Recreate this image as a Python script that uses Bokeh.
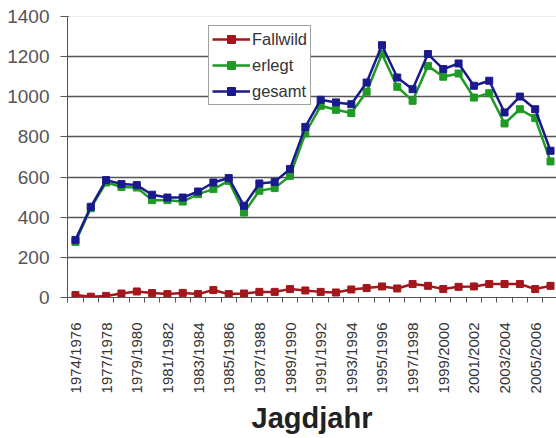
import math
from bokeh.plotting import figure
from bokeh.models import Range1d, FixedTicker, Span, Legend, LegendItem
from bokeh.embed import file_html
from bokeh.resources import INLINE

labels = ["1974/1976", "1977/1978", "1979/1980", "1981/1982", "1983/1984",
          "1985/1986", "1987/1988", "1989/1990", "1991/1992", "1993/1994",
          "1995/1996", "1997/1998", "1999/2000", "2001/2002", "2003/2004",
          "2005/2006"]

fallwild = [12, 4, 8, 20, 30, 22, 17, 23, 17, 37, 17, 20, 28, 28, 42, 35,
            28, 25, 40, 47, 55, 45, 67, 58, 42, 53, 55, 67, 67, 67, 42, 58]
erlegt = [277, 445, 573, 551, 548, 485, 485, 478, 515, 540, 581, 423, 532, 545, 606, 817,
          955, 935, 919, 1025, 1213, 1050, 980, 1154, 1100, 1116, 996, 1018, 867, 938, 894, 678]
gesamt = [287, 452, 585, 565, 560, 512, 498, 498, 528, 573, 595, 457, 568, 576, 640, 850,
          985, 972, 963, 1071, 1257, 1096, 1038, 1213, 1138, 1166, 1055, 1080, 922, 1001, 938, 731]

xs = list(range(len(gesamt)))

FONT = "Liberation Sans"

p = figure(width=556, height=438, output_backend="svg",
           toolbar_location=None, x_range=Range1d(-0.52, 31.39),
           y_range=Range1d(0, 1400), min_border_left=67, min_border_right=0,
           min_border_top=16, min_border_bottom=141,
           background_fill_color="white", border_fill_color="white")
p.outline_line_color = None

# y axis
p.yaxis.ticker = FixedTicker(ticks=list(range(0, 1401, 200)))
p.yaxis.major_tick_out = 7
p.yaxis.major_tick_in = 2
p.yaxis.minor_tick_line_color = None
p.yaxis.axis_line_color = "#555555"
p.yaxis.major_tick_line_color = "#555555"
p.yaxis.major_label_text_font = FONT
p.yaxis.major_label_text_font_size = "19px"
p.yaxis.major_label_text_color = "#555555"
p.yaxis.major_label_standoff = 11

# x axis
p.xaxis.ticker = FixedTicker(ticks=list(range(0, 31, 2)),
                             minor_ticks=[i - 0.5 for i in range(33)])
p.xaxis.major_label_overrides = {2 * i: lab for i, lab in enumerate(labels)}
p.xaxis.major_label_orientation = math.pi / 2
p.xaxis.major_tick_out = 0
p.xaxis.major_tick_in = 0
p.xaxis.minor_tick_out = 5
p.xaxis.minor_tick_in = 0
p.xaxis.axis_line_color = "#555555"
p.xaxis.minor_tick_line_color = "#555555"
p.xaxis.major_label_text_font = FONT
p.xaxis.major_label_text_font_size = "15px"
p.xaxis.major_label_text_color = "#333333"
p.xaxis.major_label_standoff = 20
p.xaxis.axis_label = "Jagdjahr"
p.xaxis.axis_label_text_font = FONT
p.xaxis.axis_label_text_font_size = "29px"
p.xaxis.axis_label_text_font_style = "bold"
p.xaxis.axis_label_text_color = "#222222"
p.xaxis.axis_label_standoff = 6

# grid
p.xgrid.grid_line_color = None
p.ygrid.ticker = FixedTicker(ticks=list(range(200, 1201, 200)))
p.ygrid.grid_line_color = "#555555"
p.ygrid.grid_line_width = 1.3
p.add_layout(Span(location=1400, dimension="width", line_color="#dddddd", line_width=1))

series = [("Fallwild", fallwild, "#A3161C"),
          ("erlegt", erlegt, "#1F9A25"),
          ("gesamt", gesamt, "#1A1A8E")]
items = []
for name, vals, col in series:
    l = p.line(xs, vals, line_color=col, line_width=2.5)
    s = p.scatter(xs, vals, marker="square", size=7, fill_color=col, line_color=col)
    items.append(LegendItem(label=name, renderers=[l, s]))

legend = Legend(items=items, location=(141, 192), orientation="vertical",
                label_text_font=FONT, label_text_font_size="16.5px",
                label_text_color="#333333", glyph_width=38, glyph_height=20,
                label_height=20, label_standoff=2, spacing=6, padding=3,
                margin=0, border_line_color="#444444", border_line_width=1,
                background_fill_color="white", background_fill_alpha=1)
p.add_layout(legend, "center")

open("out.html", "w").write(file_html(p, INLINE))
